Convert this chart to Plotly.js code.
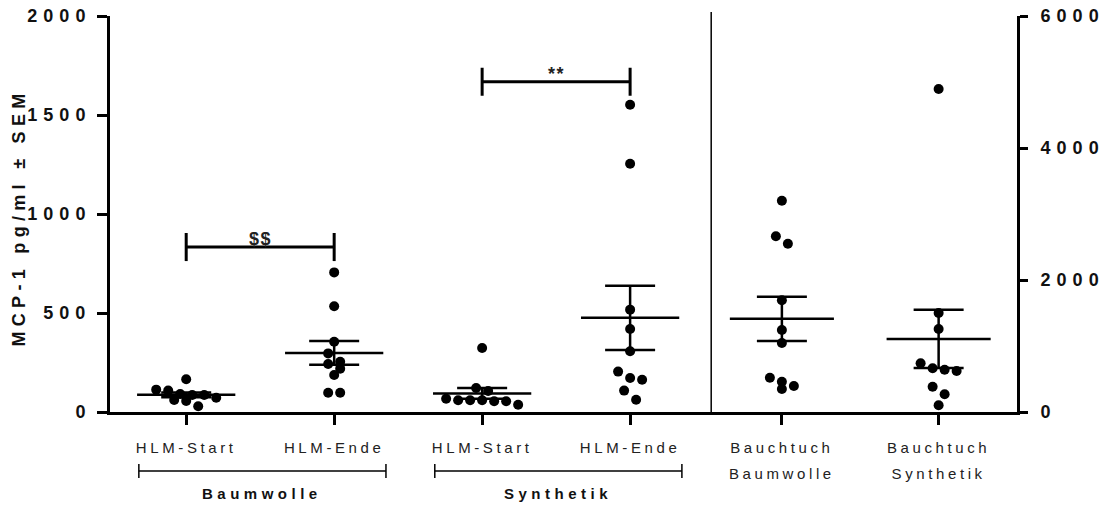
<!DOCTYPE html>
<html>
<head>
<meta charset="utf-8">
<script src="https://cdn.plot.ly/plotly-3.0.1.min.js"></script>
<style>
  body { margin: 0; background: #ffffff; }
  #chart { width: 1106px; height: 507px; }
  .ytick text, .y2tick text { letter-spacing: 6px; }
  .xtick text, .x2tick text { letter-spacing: 3.6px; }
</style>
</head>
<body>
<div id="chart"></div>
<script>
// ---------- data ----------
const categoriesLeft  = ['HLM-Start', 'HLM-Ende', 'HLM-Start', 'HLM-Ende'];
const categoriesRight = ['Bauchtuch<br>Baumwolle', 'Bauchtuch<br>Synthetik'];
const groupLabels     = ['Baumwolle', 'Synthetik'];
const yTitle          = 'MCP-1 pg/ml ± SEM';

const baumwolleStart  = [86, 91, 113, 61, 108, 29, 165, 56, 72, 86];
const baumwolleEnde   = [705, 534, 355, 296, 254, 242, 219, 187, 97, 97];
const synthetikStart  = [323, 121, 106, 67, 59, 54, 37, 54, 59, 59];
const synthetikEnde   = [1552, 1254, 517, 419, 307, 204, 172, 163, 108, 62];
const bauchtuchBaumwolle = [3201, 2662, 2550, 1692, 1242, 1045, 459, 348, 394, 520];
const bauchtuchSynthetik = [4894, 1500, 1257, 662, 621, 641, 738, 383, 268, 101];

const leftTicks  = [0, 500, 1000, 1500, 2000];
const rightTicks = [0, 2000, 4000, 6000];

const significance = [
  { from: 0, to: 1, level: 833,  label: '$$' },
  { from: 2, to: 3, level: 1668, label: '**' }
];

// ---------- layout geometry ----------
const W = 1106, H = 507;
const plotL = 110, plotR = 1016.7, plotT = 16, plotB = 412;
const split = (711 - plotL) / (plotR - plotL);
const xRangeL = [-0.515, 3.548];
const xRangeR = [-0.451, 1.5];
const yRangeL = [0, 2000];
const yRangeR = [0, 6000];
const plotH = plotB - plotT;
const plotW = plotR - plotL;
const pxPerXL = (split * plotW) / (xRangeL[1] - xRangeL[0]);
const pxPerXR = ((1 - split) * plotW) / (xRangeR[1] - xRangeR[0]);
const pxPerYL = plotH / (yRangeL[1] - yRangeL[0]);
const pxPerYR = plotH / (yRangeR[1] - yRangeR[0]);

const FONT = 'Liberation Sans, Arial, sans-serif';
const DOT = 10, DOTSTEP = 12, ROWPX = 10;
const MEANHALF = 0.332;

// simple Prism-like row swarm in pixel space
function swarm(vals, yPx, xPx) {
  const order = vals.map((v, i) => i).sort((a, b) => vals[b] - vals[a]);
  const off = new Array(vals.length).fill(0);
  let row = [], rowTop = null;
  const flush = () => {
    row.forEach((i, k) => { off[i] = (k - (row.length - 1) / 2) * DOTSTEP / xPx; });
    row = [];
  };
  order.forEach(i => {
    const p = vals[i] * yPx;
    if (row.length && rowTop - p > ROWPX) flush();
    if (!row.length) rowTop = p;
    row.push(i);
  });
  flush();
  return off;
}
function mean(a) { return a.reduce((s, v) => s + v, 0) / a.length; }
function sem(a) {
  const m = mean(a);
  const sd = Math.sqrt(a.reduce((s, v) => s + (v - m) * (v - m), 0) / (a.length - 1));
  return sd / Math.sqrt(a.length);
}

const leftSets  = [baumwolleStart, baumwolleEnde, synthetikStart, synthetikEnde];
const rightSets = [bauchtuchBaumwolle, bauchtuchSynthetik];

const traces = [];
function addSets(sets, xa, ya, xPx, yPx) {
  const px = [], py = [], mx = [], my = [], ex = [], ey = [], es = [];
  sets.forEach((vals, c) => {
    const off = swarm(vals, yPx, xPx);
    vals.forEach((v, i) => { px.push(c + off[i]); py.push(v); });
    const m = mean(vals);
    mx.push(c - MEANHALF, c + MEANHALF, null); my.push(m, m, null);
    ex.push(c); ey.push(m); es.push(sem(vals));
  });
  traces.push({ type: 'scatter', mode: 'markers', x: px, y: py, xaxis: xa, yaxis: ya,
    marker: { color: '#000', size: DOT }, hoverinfo: 'y', showlegend: false, cliponaxis: false });
  traces.push({ type: 'scatter', mode: 'lines', x: mx, y: my, xaxis: xa, yaxis: ya,
    line: { color: '#000', width: 2.5 }, hoverinfo: 'skip', showlegend: false });
  traces.push({ type: 'scatter', mode: 'markers', x: ex, y: ey, xaxis: xa, yaxis: ya,
    marker: { color: 'rgba(0,0,0,0)', size: 1 },
    error_y: { type: 'data', array: es, visible: true, color: '#000', thickness: 2.5, width: 25 },
    hoverinfo: 'skip', showlegend: false });
}
addSets(leftSets, 'x', 'y', pxPerXL, pxPerYL);
addSets(rightSets, 'x2', 'y2', pxPerXR, pxPerYR);

// ---------- shapes & annotations ----------
const shapes = [];
const annotations = [];
const sigTick = 14 / pxPerYL;
significance.forEach(s => {
  const base = { type: 'line', xref: 'x', yref: 'y', line: { color: '#000', width: 3 } };
  shapes.push(Object.assign({}, base, { x0: s.from, x1: s.to, y0: s.level, y1: s.level }));
  shapes.push(Object.assign({}, base, { x0: s.from, x1: s.from, y0: s.level - sigTick, y1: s.level + sigTick }));
  shapes.push(Object.assign({}, base, { x0: s.to, x1: s.to, y0: s.level - sigTick, y1: s.level + sigTick }));
  annotations.push({ xref: 'x', yref: 'y', x: (s.from + s.to) / 2, y: s.level, yanchor: 'bottom', yshift: -4,
    showarrow: false, text: '<span style="letter-spacing:1.5px">' + s.label + '</span>',
    font: { family: FONT, size: 18, weight: 'bold', color: '#222' } });
});
// group brackets under the axis
const gY = (plotB - 471) / plotH, gY0 = (plotB - 464) / plotH, gY1 = (plotB - 478) / plotH;
const labY = (plotB - 493) / plotH;
groupLabels.forEach((g, k) => {
  const a = 2 * k - 0.32, b = 2 * k + 1.35;
  const base = { type: 'line', xref: 'x', yref: 'paper', line: { color: '#000', width: 1.5 } };
  shapes.push(Object.assign({}, base, { x0: a, x1: b, y0: gY, y1: gY }));
  shapes.push(Object.assign({}, base, { x0: a, x1: a, y0: gY0, y1: gY1 }));
  shapes.push(Object.assign({}, base, { x0: b, x1: b, y0: gY0, y1: gY1 }));
  annotations.push({ xref: 'x', yref: 'paper', x: (a + b) / 2, y: labY, yanchor: 'middle',
    showarrow: false, text: '<span style="letter-spacing:4.5px">' + g + '</span>',
    font: { family: FONT, size: 15, weight: 'bold', color: '#111' } });
});
// rotated y-axis title
annotations.push({ xref: 'paper', yref: 'paper', x: (19.5 - plotL) / plotW, y: (plotB - 217) / plotH,
  xanchor: 'center', yanchor: 'middle', textangle: -90, showarrow: false,
  text: '<span style="letter-spacing:5.3px">' + yTitle + '</span>',
  font: { family: FONT, size: 18, weight: 'bold', color: '#111' } });
// divider between the two panels
shapes.push({ type: 'line', xref: 'paper', yref: 'paper', x0: split, x1: split, y0: 0, y1: 1.01,
  line: { color: '#000', width: 1.5 } });

const xCommon = {
  showline: true, linecolor: '#000', linewidth: 3, ticks: 'outside', ticklen: 10, tickwidth: 3,
  tickcolor: '#000', showgrid: false, zeroline: false, fixedrange: true, ticklabelstandoff: 10,
  tickfont: { family: FONT, size: 15, color: '#222' }
};
const yCommon = {
  showline: true, linecolor: '#000', linewidth: 3, ticks: 'outside', tickwidth: 3,
  tickcolor: '#000', showgrid: false, zeroline: false, fixedrange: true,
  tickfont: { family: FONT, size: 18, weight: 'bold', color: '#111' }
};

const layout = {
  width: W, height: H,
  margin: { l: plotL, r: W - plotR, t: plotT, b: H - plotB },
  paper_bgcolor: '#fff', plot_bgcolor: '#fff',
  showlegend: false,
  xaxis: Object.assign({}, xCommon, { domain: [0, split], range: xRangeL, anchor: 'y',
    tickmode: 'array', tickvals: categoriesLeft.map((c, i) => i), ticktext: categoriesLeft }),
  xaxis2: Object.assign({}, xCommon, { domain: [split, 1], range: xRangeR, anchor: 'y2',
    tickmode: 'array', tickvals: categoriesRight.map((c, i) => i), ticktext: categoriesRight }),
  yaxis: Object.assign({}, yCommon, { range: yRangeL, anchor: 'x', side: 'left', ticklen: 10,
    ticklabelstandoff: 2,
    tickmode: 'array', tickvals: leftTicks, ticktext: leftTicks.map(String) }),
  yaxis2: Object.assign({}, yCommon, { range: yRangeR, anchor: 'x2', side: 'right', ticklen: 8,
    ticklabelstandoff: 9,
    tickmode: 'array', tickvals: rightTicks, ticktext: rightTicks.map(String) }),
  shapes: shapes,
  annotations: annotations
};

Plotly.newPlot('chart', traces, layout, { displayModeBar: false, staticPlot: true }).then(gd => {
  gd.querySelectorAll('.x2tick text tspan.line').forEach(t => {
    if (t.getAttribute('dy') && parseFloat(t.getAttribute('dy')) > 0) t.setAttribute('dy', '1.73em');
  });
});
</script>
</body>
</html>
